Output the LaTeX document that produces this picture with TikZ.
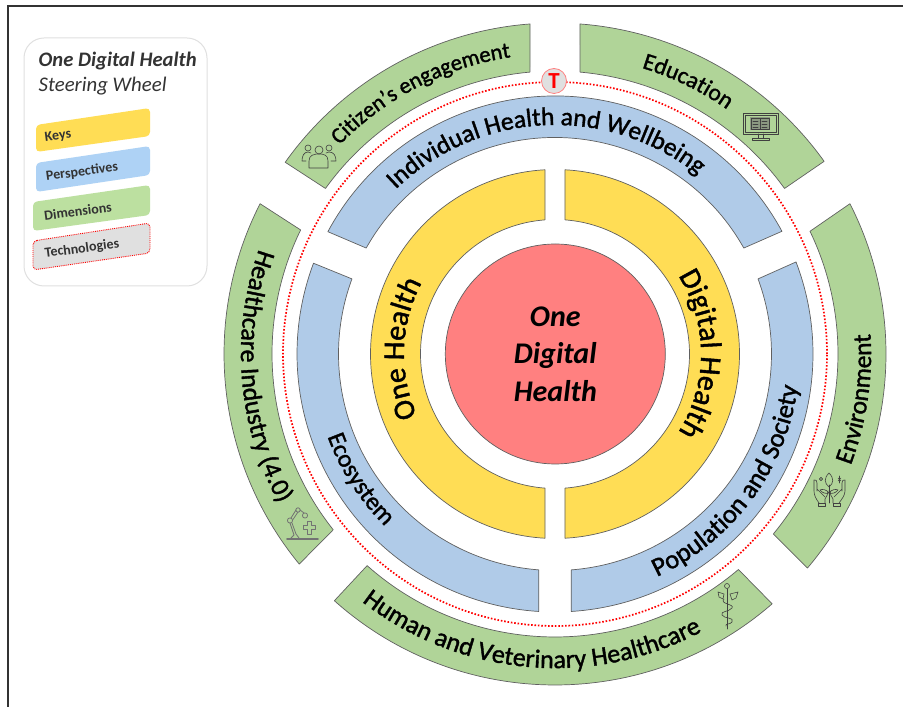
\documentclass[tikz,border=0pt]{standalone}
\usepackage{fontspec}
\setmainfont{Carlito}
\newfontfamily\wheelfont[FakeBold=1.4]{Carlito}
\usetikzlibrary{decorations.text}
\definecolor{gr}{HTML}{B0D498}
\definecolor{bl}{HTML}{B0CBE8}
\definecolor{ye}{HTML}{FFDD55}
\definecolor{rd}{HTML}{FF8080}
\definecolor{lgr}{HTML}{BCE0A0}
\definecolor{lbl}{HTML}{AED2F5}
\definecolor{edge}{HTML}{606060}
\definecolor{ink}{HTML}{333333}
\tikzset{
 seg/.style={draw=edge,line width=.7pt,line join=round},
 tag/.style={rounded corners=4pt,line join=round},
 taglabel/.style={font=\bfseries\fontsize{14}{14}\selectfont,text=ink,inner sep=0pt,rotate=7.5},
 icon/.style={draw=black!75,line width=.6pt,fill=none,line cap=round,line join=round},
 reddots/.style={draw=red,line width=1.7pt,dash pattern=on 1.6pt off 1.8pt}
}
\newcommand{\ringseg}[7]{\draw[seg,fill=#1] (555,353) ++(#4:#2) arc[start angle=#4,end angle=#5,radius=#2] -- ([shift={(#7:#3)}]555,353) arc[start angle=#7,end angle=#6,radius=#3] -- cycle;}
% radius, centre angle, half span (positive: clockwise, negative: counter-clockwise), text, font size
\newcommand{\arctext}[5]{\path[decorate,decoration={text along path,text align=center,text={|\wheelfont\fontsize{#5}{#5}\selectfont|#4}}] (555,353) ++({#2+#3}:#1) arc[start angle={#2+#3},end angle={#2-#3},radius=#1];}
\begin{document}
\begin{tikzpicture}[x=1pt,y=1pt]
\useasboundingbox (0,0) rectangle (903,707);
% frame
\draw[draw=ink,line width=1.3pt] (8,0) -- (8,701) -- (903,701);
% legend
\draw[draw=black!12,line width=1pt,rounded corners=20pt,fill=white] (24,669) rectangle (207,421);
\node[anchor=base west,inner sep=0pt,text=ink,font=\bfseries\itshape\fontsize{20.6}{20.6}\selectfont] (ttl) at (38.5,640) {One Digital Health};
\node[anchor=base west,inner sep=0pt,text=ink,font=\itshape\fontsize{20.8}{20.8}\selectfont] (sub) at (38.5,615.5) {Steering Wheel};
\fill[tag,fill=ye] (36,582) -- (150,599) -- (150,571) -- (36,555) -- cycle;
\fill[tag,fill=lbl] (36,544) -- (150,561) -- (150,532) -- (36,515) -- cycle;
\fill[tag,fill=lgr] (33,505) -- (150,522) -- (150,492) -- (33,476) -- cycle;
\draw[tag,fill=black!12,draw=red,line width=.9pt,dash pattern=on .9pt off 1pt] (33,466) -- (150,484) -- (150,454) -- (33,437) -- cycle;
\node[taglabel] (k) at (58,571) {Keys};
\node[taglabel] (p) at (82,535) {Perspectives};
\node[taglabel] (d) at (78,496) {Dimensions};
\node[taglabel] (t) at (82,458) {Technologies};
% green ring
\ringseg{gr}{331}{283}{144.6}{94.33}{144.2}{95.07}
\ringseg{gr}{331}{283}{85.67}{35.6}{84.93}{35.8}
\ringseg{gr}{331}{283}{27}{-40.3}{25.7}{-39.5}
\ringseg{gr}{331}{283}{-49}{-131.8}{-49.6}{-131.6}
\ringseg{gr}{331}{283}{219.4}{153}{218.4}{154}
% blue ring
\ringseg{bl}{258}{216.5}{151.7}{28.4}{150.7}{29.3}
\ringseg{bl}{258}{216.5}{20.9}{-86.4}{20.3}{-85.7}
\ringseg{bl}{258}{216.5}{266.4}{159.4}{265.7}{159.7}
% yellow ring
\ringseg{ye}{184.5}{134.5}{266.9}{93.1}{265.74}{94.26}
\ringseg{ye}{184.5}{134.5}{86.9}{-86.9}{85.74}{-85.74}
% centre
\node[circle,draw=edge,line width=.7pt,fill=rd,minimum size=220pt,inner sep=0pt] (hub) at (555.3,353) {};
\node[inner sep=0pt,align=center,font=\bfseries\itshape\fontsize{30}{37.5}\selectfont] (hubt) at (555.3,353) {One\\Digital\\Health};
% technologies ring
\draw[reddots] (555,353) circle[radius=272];
\node[circle,draw=rd,line width=.8pt,fill=black!12,minimum size=25pt,inner sep=0pt,text=red,font=\bfseries\fontsize{23}{23}\selectfont] (tbadge) at (554,626) {T};
% labels
\arctext{300}{117.2}{60}{Citizen’s engagement}{22.5}
\arctext{299}{64}{50}{Education}{23.5}
\arctext{316}{-8.5}{-60}{Environment}{25.5}
\arctext{314}{265}{-60}{Human and Veterinary Healthcare}{26}
\arctext{314}{184.5}{-60}{Healthcare Industry (4.0)}{26}
\arctext{229}{92.7}{70}{Individual Health and Wellbeing}{25.5}
\arctext{242}{212.7}{-50}{Ecosystem}{25}
\arctext{245}{323.5}{-60}{Population and Society}{26.5}
\arctext{151}{178}{70}{One Health}{30}
\arctext{146}{0}{70}{Digital Health}{30}
% people icon
\begin{scope}[icon]
\draw (308,559) circle[radius=3]; \draw (329,559) circle[radius=3]; \draw (319,557) circle[radius=4];
\draw (309,539) -- (309,546) .. controls (309,552) and (314,553) .. (319,553) .. controls (324,553) and (328,552) .. (328,546) -- (328,539) -- cycle;
\draw (306,546) -- (302,546) .. controls (302,551) and (304,555) .. (308,555) -- (311,554);
\draw (331,546) -- (336,546) .. controls (336,551) and (334,555) .. (329,555) -- (326,554);
\end{scope}
% monitor icon
\begin{scope}[icon]
\draw (743,594) rectangle (778,573); \draw (745,592) rectangle (776,575);
\fill[black!55,opacity=.6] (750,590) rectangle (770,577);
\draw (751,589) rectangle (760,578); \draw (760,589) rectangle (769,578);
\draw (758,573) -- (758,569) (763,573) -- (763,569);
\draw (752,567) -- (769,567) -- (769,569) -- (752,569) -- cycle;
\draw (753,586) -- (758,586) (753,583) -- (758,583) (753,580) -- (758,580) (762,586) -- (767,586) (762,583) -- (767,583) (762,580) -- (767,580);
\end{scope}
% hands and plant icon
\begin{scope}[icon]
\draw (818,201) rectangle (825,204); \draw (833,201) rectangle (840,204);
\draw (819,204) .. controls (816,208) and (814,212) .. (814,216) -- (814,227) .. controls (816,228) and (817,226) .. (817,224) -- (817,216) (817,218) -- (825,210);
\draw (825,204) -- (825,208) .. controls (827,211) and (828,213) .. (828,216) ;
\draw (839,204) .. controls (842,208) and (845,212) .. (845,216) -- (845,227) .. controls (843,228) and (842,226) .. (842,224) -- (842,216) (842,218) -- (834,210);
\draw (833,204) -- (833,208) .. controls (831,211) and (830,213) .. (830,216);
\draw (829,204) -- (829,222);
\draw (829,220) .. controls (824,224) and (824,229) .. (829,234) .. controls (834,229) and (834,224) .. (829,220);
\draw (829,214) .. controls (826,218) and (822,218) .. (820,217) .. controls (822,214) and (826,213) .. (829,214);
\draw (829,214) .. controls (832,218) and (836,218) .. (838,217) .. controls (836,214) and (832,213) .. (829,214);
\draw (821,228) circle[radius=1.6];
\draw (838,226) -- (841,229) (838,229) -- (841,226) (839.5,231) -- (839.5,224);
\end{scope}
% caduceus icon
\begin{scope}[icon]
\draw (727,78) -- (727,118); \draw (727,121) circle[radius=2.5];
\draw (724,113) -- (718,115) -- (719,110) -- (723,108) -- cycle;
\draw (730,113) -- (738,115) -- (736,109) -- (732,107) -- cycle;
\draw (724,108) .. controls (719,103) and (735,103) .. (732,99) .. controls (729,95) and (720,96) .. (722,92) .. controls (724,88) and (735,90) .. (732,85) .. controls (730,82) and (725,84) .. (726,81);
\end{scope}
% robot arm icon
\begin{scope}[draw=black!55,line width=.8pt,fill=none,line cap=round,line join=round]
\draw[line width=1.6pt] (287,168) -- (318,168);
\draw (291,169) -- (294,172) -- (290,184) (299,169) -- (296,173) -- (292,184);
\draw (290,186.5) circle[radius=2.6];
\draw (291,189) -- (296,197) (293,187.5) -- (298,195);
\draw (298,197) circle[radius=2.2];
\draw (300,197) -- (304,194);
\draw (305,191.5) circle[radius=2.6];
\draw (303,177.5) -- (307,177.5) -- (307,173) -- (311,173) -- (311,177.5) -- (315,177.5) -- (315,181.5) -- (311,181.5) -- (311,186) -- (307,186) -- (307,181.5) -- (303,181.5) -- cycle;
\end{scope}
\end{tikzpicture}
\end{document}
